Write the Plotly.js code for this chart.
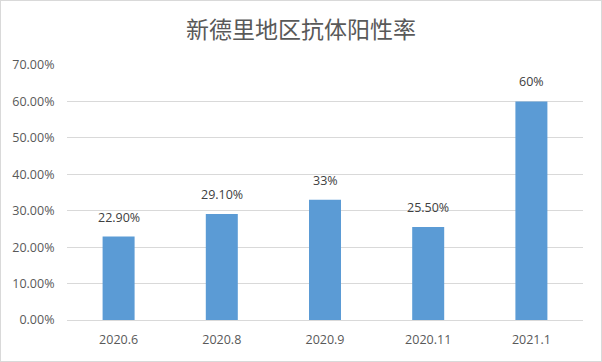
<!DOCTYPE html>
<html><head><meta charset="utf-8">
<script src="https://cdn.plot.ly/plotly-3.0.1.min.js"></script>
<style>html,body{margin:0;padding:0;background:#fff}#wrap{position:relative;width:602px;height:362px}#chart{position:absolute;left:0;top:0;width:602px;height:362px}#bd{position:absolute;left:0;top:0;width:602px;height:362px;box-sizing:border-box;border:1px solid #d9d9d9;pointer-events:none}</style>
</head><body>
<div id="wrap"><div id="chart"></div><div id="bd"></div></div>
<script>
const categories = ["2020.6", "2020.8", "2020.9", "2020.11", "2021.1"];
const values = [0.229, 0.291, 0.33, 0.255, 0.60];
const labels = ["22.90%", "29.10%", "33%", "25.50%", "60%"];
const titleText = "新德里地区抗体阳性率";

const annotations = categories.map((c, i) => ({
  x: i, y: values[i], xref: "x", yref: "y", text: labels[i],
  showarrow: false, yanchor: "bottom", yshift: 9,
  font: {family: "Open Sans, Noto Sans CJK SC", size: 12.5, color: "#404040"}
}));

Plotly.newPlot("chart", [{
  type: "bar", x: categories, y: values,
  marker: {color: "#5b9bd5"}, hoverinfo: "none"
}], {
  width: 602, height: 362,
  margin: {l: 67, r: 19, t: 65, b: 42},
  paper_bgcolor: "#fff", plot_bgcolor: "#fff",
  bargap: 0.69,
  showlegend: false,
  annotations: annotations,
  title: {text: titleText, x: 0.5, xanchor: "center", y: 0.918, yanchor: "middle",
    font: {family: "Noto Sans CJK SC", size: 23, color: "#595959"}},
  xaxis: {type: "category", range: [-0.5, 4.5], showgrid: false, zeroline: false, showline: false,
    ticks: "outside", ticklen: 8, tickcolor: "rgba(0,0,0,0)",
    tickfont: {family: "Open Sans, Noto Sans CJK SC", size: 12.5, color: "#595959"}},
  yaxis: {range: [0, 0.7], dtick: 0.1, tickformat: ".2%", showgrid: true,
    gridcolor: "#d9d9d9", gridwidth: 1, zeroline: true, zerolinecolor: "#d9d9d9", showline: false,
    ticks: "outside", ticklen: 9, tickcolor: "rgba(0,0,0,0)",
    tickfont: {family: "Open Sans, Noto Sans CJK SC", size: 12.5, color: "#595959"}}
}, {staticPlot: true, displayModeBar: false});
</script>
</body></html>
